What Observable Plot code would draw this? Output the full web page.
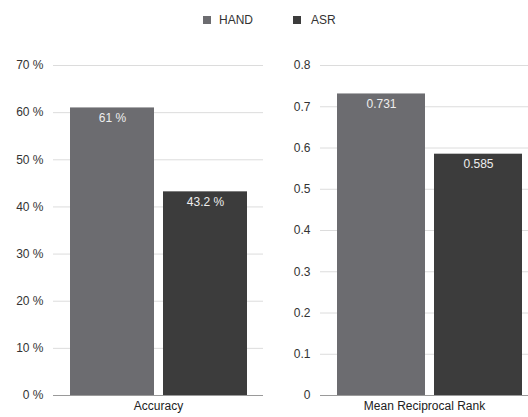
<!DOCTYPE html>
<html>
<head>
<meta charset="utf-8">
<script src="https://cdn.jsdelivr.net/npm/d3@7"></script>
<script src="https://cdn.jsdelivr.net/npm/@observablehq/plot@0.6"></script>
<style>
  html, body { margin: 0; padding: 0; background: #fff; }
  body { width: 528px; height: 417px; position: relative; overflow: hidden; font-family: "Liberation Sans", Arial, sans-serif; }
  #legend { position: absolute; top: 0; left: 0; width: 528px; height: 40px; font-size: 12px; color: #333; }
  .sw { position: absolute; width: 8px; height: 8px; top: 16px; }
  .lt { position: absolute; top: 13px; line-height: 14px; }
  #left, #right { position: absolute; top: 50px; }
  #left { left: 0; }
  #right { left: 266px; }
</style>
</head>
<body>
<div id="legend"></div>
<div id="left"></div>
<div id="right"></div>
<script>
const series = ["HAND", "ASR"];
const seriesColors = ["#6c6c70", "#3c3c3c"];
const accuracyValues = [61, 43.2];
const mrrValues = [0.731, 0.585];
const accuracyTicks = [0, 10, 20, 30, 40, 50, 60, 70];
const mrrTicks = [0, 0.1, 0.2, 0.3, 0.4, 0.5, 0.6, 0.7, 0.8];
const categories = ["Accuracy", "Mean Reciprocal Rank"];

// legend
const legend = document.getElementById("legend");
const legendPos = [[203, 219], [293, 311]];
series.forEach((s, i) => {
  const sw = document.createElement("div");
  sw.className = "sw";
  sw.style.left = legendPos[i][0] + "px";
  sw.style.background = seriesColors[i];
  legend.appendChild(sw);
  const t = document.createElement("div");
  t.className = "lt";
  t.style.left = legendPos[i][1] + "px";
  t.textContent = s;
  legend.appendChild(t);
});

function panel({values, ticks, fmt, labelFmt, category, width, marginLeft, marginRight, xRange, paddingInner}) {
  const data = series.map((s, i) => ({series: s, value: values[i]}));
  const domainMax = ticks[ticks.length - 1];
  return Plot.plot({
    width,
    height: 367,
    marginTop: 15,
    marginBottom: 22,
    marginLeft,
    marginRight,
    style: {fontFamily: "'Liberation Sans', Arial, sans-serif", fontSize: "12px", color: "#333", background: "transparent"},
    x: {domain: series, range: xRange, paddingInner, paddingOuter: 0, axis: null},
    y: {domain: [0, domainMax], ticks, tickFormat: fmt, label: null},
    color: {domain: series, range: seriesColors},
    marks: [
      Plot.gridY(ticks.filter(t => t !== 0), {stroke: "#dcdcdc", strokeOpacity: 1, strokeWidth: 1}),
      Plot.axisY({ticks, tickFormat: fmt, tickSize: 0, tickPadding: 10, label: null, fill: "#333"}),
      Plot.barY(data, {x: "series", y: "value", fill: "series"}),
      Plot.ruleY([0], {stroke: "#9a9a9a", strokeWidth: 1}),
      Plot.text(data, {x: "series", y: "value", text: d => labelFmt(d.value), dy: 10, fill: "#eeeeee", fontSize: 12}),
      Plot.text([category], {frameAnchor: "bottom", dy: 14, text: d => d, fill: "#222", fontSize: 12})
    ]
  });
}

document.getElementById("left").appendChild(panel({
  values: accuracyValues,
  ticks: accuracyTicks,
  fmt: d => d + " %",
  labelFmt: v => v + " %",
  category: categories[0],
  width: 266,
  marginLeft: 53,
  marginRight: 3,
  xRange: [70, 247],
  paddingInner: 9 / 93
}));

document.getElementById("right").appendChild(panel({
  values: mrrValues,
  ticks: mrrTicks,
  fmt: d => String(+d.toFixed(1)),
  labelFmt: v => v.toFixed(3),
  category: categories[1],
  width: 262,
  marginLeft: 54,
  marginRight: 0,
  xRange: [71, 256],
  paddingInner: 9 / 97
}));
</script>
</body>
</html>
